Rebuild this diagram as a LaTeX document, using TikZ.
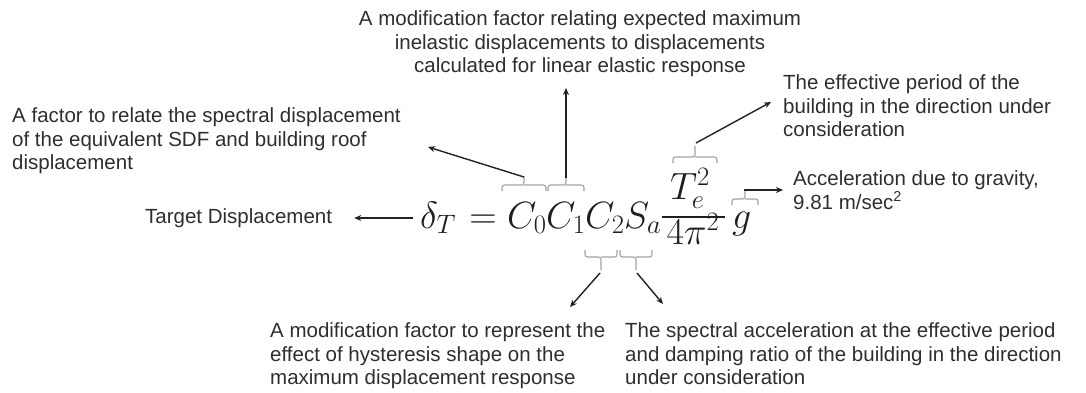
\RequirePackage{fix-cm}
\documentclass[tikz,border=0pt]{standalone}
\usepackage{amsmath}
\usepackage[no-math]{fontspec}
\setmainfont{Liberation Sans}
\usetikzlibrary{arrows.meta}
\definecolor{txtc}{HTML}{2E2E2E}
\definecolor{eqc}{HTML}{1E1E1E}
\definecolor{arrc}{HTML}{222222}
\definecolor{brcc}{HTML}{A3A3A3}
\begin{document}
\begin{tikzpicture}[x=1pt,y=-1pt,
  txt/.style={font=\fontsize{20.5}{23.5}\selectfont, text=txtc, inner sep=0pt},
  eq/.style={font=\fontsize{38}{44}\selectfont, text=eqc, inner sep=0pt},
  arr/.style={-{Stealth[length=7pt,width=6pt]}, line width=1.4pt, draw=arrc},
  brc/.style={draw=brcc, line width=1.1pt, rounded corners=2.5pt}]
\useasboundingbox (0,0) rectangle (1086,392);

% equation
\node[eq, anchor=base west] (delta) at (420,228) {$\delta_T$};
\node[eq, anchor=base] (eqsign) at (483,228) {$=$};
\node[eq, anchor=base west] (c0) at (507,228) {$C_0$};
\node[eq, anchor=base west] (c1) at (546,228) {$C_1$};
\node[eq, anchor=base west] (c2) at (585,228) {$C_2$};
\node[eq, anchor=base west] (sa) at (624,228) {$S_a$};
\node[eq, anchor=base] (num) at (690,199) {$T_e^2$};
\node[eq, anchor=base] (den) at (693,244) {$4\pi^2$};
\draw[draw=eqc, line width=1.3pt] (662,217) -- (725,217);
\node[eq, anchor=base west] (g) at (732,228) {$g$};

% texts
\node[txt, anchor=west] (target) at (145,218) {Target Displacement};
\node[txt, anchor=north, align=center] (top) at (580,10.5)
  {A modification factor relating expected maximum\\inelastic displacements to displacements\\calculated for linear elastic response};
\node[txt, anchor=north west, align=left] (tleft) at (12,107.5)
  {A factor to relate the spectral displacement\\of the equivalent SDF and building roof\\displacement};
\node[txt, anchor=north west, align=left] (period) at (783,74.5)
  {The effective period of the\\building in the direction under\\consideration};
\node[txt, anchor=north west, align=left] (acc) at (793,170.5)
  {Acceleration due to gravity,\\9.81 m/sec\textsuperscript{2}};
\node[txt, anchor=north west, align=left] (hyst) at (270,322.5)
  {A modification factor to represent the\\effect of hysteresis shape on the\\maximum displacement response};
\node[txt, anchor=north west, align=left] (spec) at (625,322.5)
  {The spectral acceleration at the effective period\\and damping ratio of the building in the direction\\under consideration};

% braces (over)
\draw[brc] (502,191) -- (502,185) -- (524,185) -- (524,176);
\draw[brc] (546,191) -- (546,185) -- (524,185);
\draw[brc] (548,191) -- (548,185) -- (566,185) -- (566,177);
\draw[brc] (584,191) -- (584,185) -- (566,185);
\draw[brc] (673,163) -- (673,157) -- (695,157) -- (695,146);
\draw[brc] (717,163) -- (717,157) -- (695,157);
\draw[brc] (732,205) -- (732,199) -- (745,199) -- (745,191);
\draw[brc] (758,205) -- (758,199) -- (745,199);
% braces (under)
\draw[brc] (585,250) -- (585,257) -- (601,257) -- (601,270);
\draw[brc] (617,250) -- (617,257) -- (601,257);
\draw[brc] (620,250) -- (620,257) -- (636,257) -- (636,270);
\draw[brc] (652,250) -- (652,257) -- (636,257);

% connector end points
\coordinate (b0) at (524,177);
\coordinate (a0) at (428,147);
\coordinate (b1) at (566,178);
\coordinate (a1) at (566,88);
\coordinate (bt) at (696,143);
\coordinate (at) at (771,102);
\coordinate (bg) at (744,190);
\coordinate (b2) at (600,273);
\coordinate (a2) at (570,307);
\coordinate (bs) at (637,273);
\coordinate (as) at (663,304);

% connectors
\draw[arr] ([xshift=-7pt]delta.west |- target.east) -- ([xshift=22pt]target.east);
\draw[arr] (b0) -- (a0);
\draw[arr] (b1) -- (a1);
\draw[arr] (bt) -- (at);
\draw[arr, shorten >=10pt] (bg) -- (bg -| acc.west);
\draw[arr] (b2) -- (a2);
\draw[arr] (bs) -- (as);
\end{tikzpicture}
\end{document}
